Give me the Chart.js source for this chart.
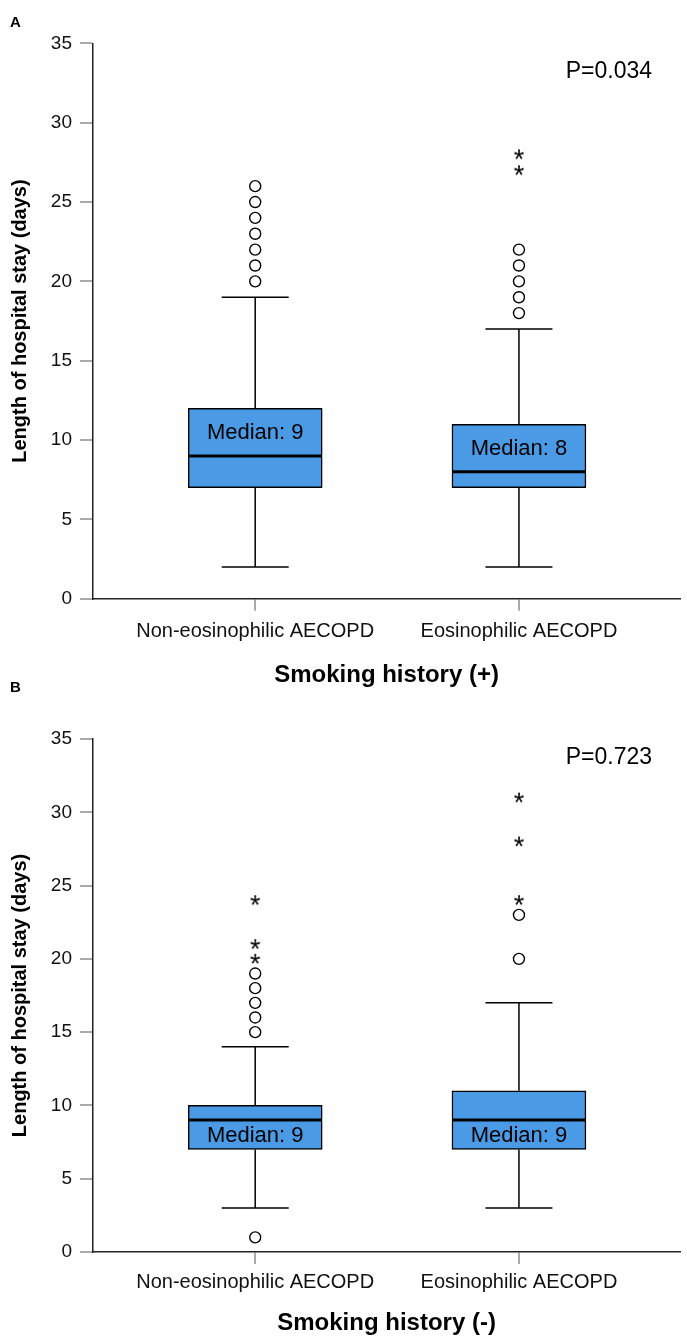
<!DOCTYPE html>
<html>
<head>
<meta charset="utf-8">
<script src="https://cdn.jsdelivr.net/npm/chart.js@4.4.1/dist/chart.umd.min.js"></script>
<style>
  body { margin: 0; background: #fff; }
  #wrap { position: relative; width: 687px; height: 1339px; }
  canvas { position: absolute; left: 0; }
  .tag { position: absolute; left: 10px; font: bold 15px "Liberation Sans", Arial, sans-serif; color: #000; z-index: 2; }
</style>
</head>
<body>
<div id="wrap">
  <canvas id="chartA" width="687" height="700" style="top:0"></canvas>
  <canvas id="chartB" width="687" height="639" style="top:700px"></canvas>
  <div class="tag" style="top:13px">A</div>
  <div class="tag" style="top:678px">B</div>
</div>
<script>
// groups on the x axis
const categories = ['Non-eosinophilic AECOPD', 'Eosinophilic AECOPD'];
const yTicks = [0, 5, 10, 15, 20, 25, 30, 35];

// panel A: smoking history (+)
const smokerMin = [2, 2];
const smokerQ1 = [7, 7];
const smokerMedian = [9, 8];
const smokerQ3 = [12, 11];
const smokerMax = [19, 17];
const smokerCircles = [[20, 21, 22, 23, 24, 25, 26], [18, 19, 20, 21, 22]];
const smokerStars = [[], [27, 28]];
const smokerP = 'P=0.034';

// panel B: smoking history (-)
const nonSmokerMin = [3, 3];
const nonSmokerQ1 = [7, 7];
const nonSmokerMedian = [9, 9];
const nonSmokerQ3 = [10, 11];
const nonSmokerMax = [14, 17];
const nonSmokerCircles = [[1, 15, 16, 17, 18, 19], [20, 23]];
const nonSmokerStars = [[20, 21, 24], [24, 28, 31]];
const nonSmokerP = 'P=0.723';

const FONT = '"Liberation Sans", Arial, sans-serif';
Chart.defaults.font.family = FONT;
Chart.defaults.color = '#111';

function makeStar() {
  const c = document.createElement('canvas');
  c.width = 18; c.height = 18;
  const g = c.getContext('2d');
  g.font = '27px ' + FONT;
  g.textAlign = 'center';
  g.fillStyle = '#000';
  const m = g.measureText('*');
  const a = m.actualBoundingBoxAscent, d = m.actualBoundingBoxDescent;
  g.fillText('*', 9, 9 + (a - d) / 2);
  return c;
}
const starImg = makeStar();

function points(groups) {
  const out = [];
  groups.forEach((vals, i) => vals.forEach(v => out.push({ x: i, y: v })));
  return out;
}

// whiskers, caps, medians, median labels and p value
const boxParts = {
  id: 'boxParts',
  afterDatasetsDraw(chart, args, o) {
    const { ctx, chartArea } = chart;
    const x = chart.scales.x, y = chart.scales.y;
    const meta = chart.getDatasetMeta(0);
    const line = (x1, y1, x2, y2) => { ctx.beginPath(); ctx.moveTo(x1, y1); ctx.lineTo(x2, y2); ctx.stroke(); };
    ctx.save();
    ctx.strokeStyle = '#000';
    o.median.forEach((med, i) => {
      const half = meta.data[i].width / 2;
      const cx = x.getPixelForValue(i);
      const pMin = y.getPixelForValue(o.min[i]), pMax = y.getPixelForValue(o.max[i]);
      const pQ1 = y.getPixelForValue(o.q1[i]), pQ3 = y.getPixelForValue(o.q3[i]);
      const pMed = y.getPixelForValue(med);
      ctx.lineWidth = 1.5;
      line(cx, pQ3, cx, pMax);
      line(cx, pQ1, cx, pMin);
      line(cx - half / 2, pMax, cx + half / 2, pMax);
      line(cx - half / 2, pMin, cx + half / 2, pMin);
      ctx.lineWidth = 3;
      line(cx - half + 1, pMed, cx + half - 1, pMed);
      // label goes into the taller half of the box
      const upper = o.q3[i] - med, lower = med - o.q1[i];
      const ty = upper > lower ? (pQ3 + pMed) / 2 : (pMed + pQ1) / 2;
      ctx.fillStyle = '#000';
      ctx.font = '22px ' + FONT;
      ctx.textAlign = 'center';
      ctx.textBaseline = 'middle';
      ctx.fillText('Median: ' + med, cx, ty + 1);
    });
    ctx.font = '23px ' + FONT;
    ctx.textAlign = 'right';
    ctx.textBaseline = 'middle';
    ctx.fillText(o.pText, chartArea.right - 28, chartArea.top + o.pTop);
    ctx.restore();
  }
};

function makeChart(id, d) {
  return new Chart(document.getElementById(id), {
    type: 'bar',
    data: {
      datasets: [
        {
          data: categories.map((c, i) => ({ x: i, y: [d.q1[i], d.q3[i]] })),
          backgroundColor: '#4b9ae5',
          borderColor: '#000',
          borderWidth: 1.5,
          borderSkipped: false,
          barThickness: 134,
          order: 2
        },
        {
          type: 'scatter',
          data: points(d.circles),
          pointStyle: 'circle',
          pointRadius: 5.5,
          pointBackgroundColor: '#fff',
          pointBorderColor: '#000',
          pointBorderWidth: 1.4,
          order: 1
        },
        {
          type: 'scatter',
          data: points(d.stars),
          pointStyle: starImg,
          order: 1
        }
      ]
    },
    options: {
      responsive: false,
      animation: false,
      events: [],
      layout: { padding: { top: d.padTop, right: 4, bottom: 0, left: 0 } },
      plugins: {
        legend: { display: false },
        tooltip: { enabled: false },
        boxParts: { min: d.min, q1: d.q1, median: d.median, q3: d.q3, max: d.max, pText: d.pText, pTop: d.pTop }
      },
      scales: {
        x: {
          type: 'linear',
          min: -0.615,
          max: 1.611,
          offset: false,
          afterBuildTicks: s => { s.ticks = categories.map((c, i) => ({ value: i })); },
          afterFit: s => { s.height = d.xHeight; },
          ticks: {
            callback: v => categories[v],
            font: { size: 20 },
            color: '#111',
            padding: d.xTickPad,
            autoSkip: false,
            maxRotation: 0
          },
          grid: { offset: false, drawOnChartArea: false, drawTicks: true, tickLength: 12, color: '#aaa', lineWidth: 2 },
          border: { color: '#222', width: 1.5 },
          title: {
            display: true,
            text: d.xTitle,
            color: '#000',
            font: { size: 24, weight: 'bold' },
            padding: { top: 0, bottom: d.xTitlePad }
          }
        },
        y: {
          min: 0,
          max: 35,
          afterBuildTicks: s => { s.ticks = yTicks.map(v => ({ value: v })); },
          afterFit: s => { s.width = 93; },
          ticks: { font: { size: 19 }, color: '#111', padding: 8 },
          grid: { drawOnChartArea: false, drawTicks: true, tickLength: 13, color: '#aaa', lineWidth: 2 },
          border: { color: '#222', width: 1.5 },
          title: {
            display: true,
            text: 'Length of hospital stay (days)',
            color: '#000',
            font: { size: 20, weight: 'bold' },
            padding: { top: 8, bottom: 0 }
          }
        }
      }
    },
    plugins: [boxParts]
  });
}

makeChart('chartA', {
  min: smokerMin, q1: smokerQ1, median: smokerMedian, q3: smokerQ3, max: smokerMax,
  circles: smokerCircles, stars: smokerStars, pText: smokerP, pTop: 28,
  xTitle: 'Smoking history (+)', padTop: 43.3, xHeight: 101.2, xTickPad: 9, xTitlePad: 10.6
});
makeChart('chartB', {
  min: nonSmokerMin, q1: nonSmokerQ1, median: nonSmokerMedian, q3: nonSmokerQ3, max: nonSmokerMax,
  circles: nonSmokerCircles, stars: nonSmokerStars, pText: nonSmokerP, pTop: 19,
  xTitle: 'Smoking history (-)', padTop: 39, xHeight: 87, xTickPad: 6, xTitlePad: 1.6
});
</script>
</body>
</html>
